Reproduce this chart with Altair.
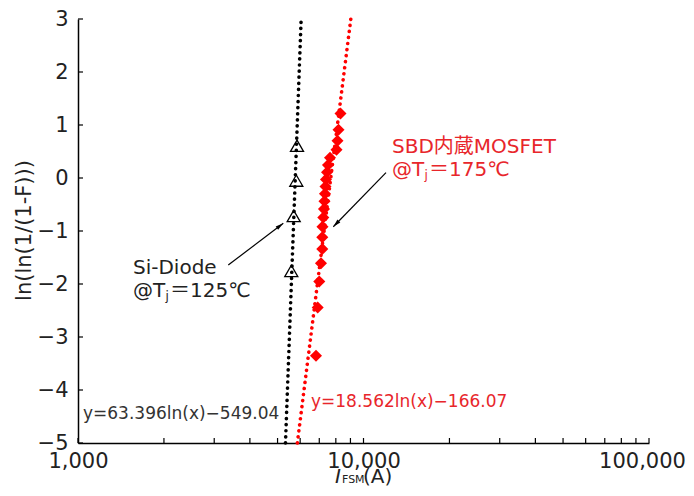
import altair as alt
import pandas as pd

FONT = "DejaVu Sans, Noto Sans CJK JP"
RED = "#ff0000"
TXT_RED = "#e8262b"
DARK = "#222222"

# Si-Diode (open triangles)
tri_x = [5586, 5695, 5816, 5849]
tri_y = [-1.753, -0.718, -0.049, 0.609]

# SBD MOSFET (red diamonds)
dia_x = [6817, 6911, 7000, 7097, 7172, 7172, 7183, 7230, 7270, 7300,
         7330, 7360, 7390, 7450, 7510, 7632, 8044, 8109, 8175, 8307]
dia_y = [-3.355, -2.442, -1.952, -1.608, -1.340, -1.116, -0.921, -0.747, -0.587, -0.438,
         -0.297, -0.160, -0.026, 0.107, 0.243, 0.384, 0.535, 0.704, 0.910, 1.2155]

# fitted lines (end points)
fit_si_x = [5330, 6048]
fit_si_y = [-5, 3]
fit_sbd_x = [5865, 9026]
fit_sbd_y = [-5, 3]

# annotation arrows (tail -> head)
arr_x = [3360, 11990]
arr_y = [-1.642, 0.100]
arr_x2 = [5237, 7838]
arr_y2 = [-0.855, -0.919]
arr_angle = [52.8, 224.3]

x_labels = [1000, 10000, 100000]
x_ticks = [1000, 2000, 3000, 4000, 5000, 6000, 7000, 8000, 9000,
           10000, 20000, 30000, 40000, 50000, 60000, 70000, 80000, 90000, 100000]
y_ticks = [-5, -4, -3, -2, -1, 0, 1, 2, 3]

W, H = 571, 424

xs = alt.Scale(type="log", domain=[1000, 100000], nice=False)
ys = alt.Scale(domain=[-5, 3], nice=False)

xaxis = alt.Axis(values=x_labels, format=",", ticks=False, grid=False,
                 domainColor="black", domainWidth=1.5, labelFont=FONT,
                 labelFontSize=21, labelColor=DARK, labelPadding=7,
                 labelFlush=False, title=None,
                 labelOffset={"condition": {"test": "datum.value == 100000", "value": -7}, "value": 0})
yaxis = alt.Axis(values=y_ticks, ticks=False, grid=False,
                 domainColor="black", domainWidth=1.5, labelFont=FONT,
                 labelFontSize=21, labelColor=DARK, labelPadding=10,
                 title="ln(ln(1/(1-F)))", titleFont=FONT, titleFontSize=21,
                 titleFontWeight="normal", titleColor=DARK, titleAngle=270,
                 titleAlign="center", titleBaseline="middle",
                 titleX=-54, titleY=211)


def X(f):
    return alt.X(f, type="quantitative", scale=xs, axis=xaxis)


def Y(f):
    return alt.Y(f, type="quantitative", scale=ys, axis=yaxis)


fit_si = alt.Chart(pd.DataFrame({"x": fit_si_x, "y": fit_si_y})).mark_line(
    color="black", strokeWidth=3.6, strokeDash=[0.1, 6], strokeCap="round"
).encode(x=X("x"), y=Y("y"))

fit_sbd = alt.Chart(pd.DataFrame({"x": fit_sbd_x, "y": fit_sbd_y})).mark_line(
    color=RED, strokeWidth=3.6, strokeDash=[0.1, 6], strokeCap="round"
).encode(x=X("x"), y=Y("y"))

tri = alt.Chart(pd.DataFrame({"x": tri_x, "y": tri_y})).mark_point(
    shape="triangle-up", filled=False, size=170, color="black", strokeWidth=1.3, opacity=1
).encode(x=X("x"), y=Y("y"))

dia = alt.Chart(pd.DataFrame({"x": dia_x, "y": dia_y})).mark_point(
    shape="diamond", filled=True, size=145, color=RED, opacity=1
).encode(x=X("x"), y=Y("y"))

xt = alt.Chart(pd.DataFrame({"x": x_ticks})).mark_rule(color="black", strokeWidth=1.2).encode(
    x=X("x"), y=alt.value(H), y2=alt.value(H - 5))

yt = alt.Chart(pd.DataFrame({"y": y_ticks})).mark_rule(color="black", strokeWidth=1.2).encode(
    y=Y("y"), x=alt.value(0), x2=alt.value(5))

arr_df = pd.DataFrame({"x": arr_x, "y": arr_y, "x2": arr_x2, "y2": arr_y2, "a": arr_angle})
arrows = alt.Chart(arr_df).mark_rule(color="black", strokeWidth=1.2).encode(
    x=X("x"), y=Y("y"), x2="x2:Q", y2="y2:Q")
heads = alt.Chart(arr_df).mark_point(
    shape="M0,0L-1,4L1,4Z", filled=True, size=16, color="black", opacity=1
).encode(x=X("x2"), y=Y("y2"), angle=alt.Angle("a:Q", scale=None))


def txt(s, x, y, size=20, color=DARK, align="left", style="normal"):
    return alt.Chart(pd.DataFrame({"t": [s]})).mark_text(
        align=align, baseline="alphabetic", font=FONT, fontSize=size,
        color=color, fontStyle=style
    ).encode(x=alt.value(x), y=alt.value(y), text="t:N")


texts = [
    txt("SBD内蔵MOSFET", 314, 134, color=TXT_RED),
    txt("@T", 314, 157, color=TXT_RED),
    txt("j", 346.5, 160, size=12, color=TXT_RED),
    txt("＝175℃", 351, 157, color=TXT_RED),
    txt("Si-Diode", 55, 255),
    txt("@T", 55, 278),
    txt("j", 87.5, 281, size=12),
    txt("＝125℃", 92, 278),
    txt("y=63.396ln(x)−549.04", 5, 400, size=17, color="#333333"),
    txt("y=18.562ln(x)−166.07", 233, 388, size=17, color=TXT_RED),
    txt("I", 263, 464, size=20, align="right", style="italic"),
    txt("FSM", 264, 464, size=11),
    txt("(A)", 285, 464, size=20),
]

chart = alt.layer(fit_si, fit_sbd, tri, dia, xt, yt, arrows, heads, *texts).properties(
    width=W, height=H,
    autosize=alt.AutoSizeParams(type="none"),
    padding={"left": 70, "top": 11, "right": 37, "bottom": 45},
).configure_view(stroke=None)

chart.save("out.html", embed_options={"renderer": "svg", "actions": False})
